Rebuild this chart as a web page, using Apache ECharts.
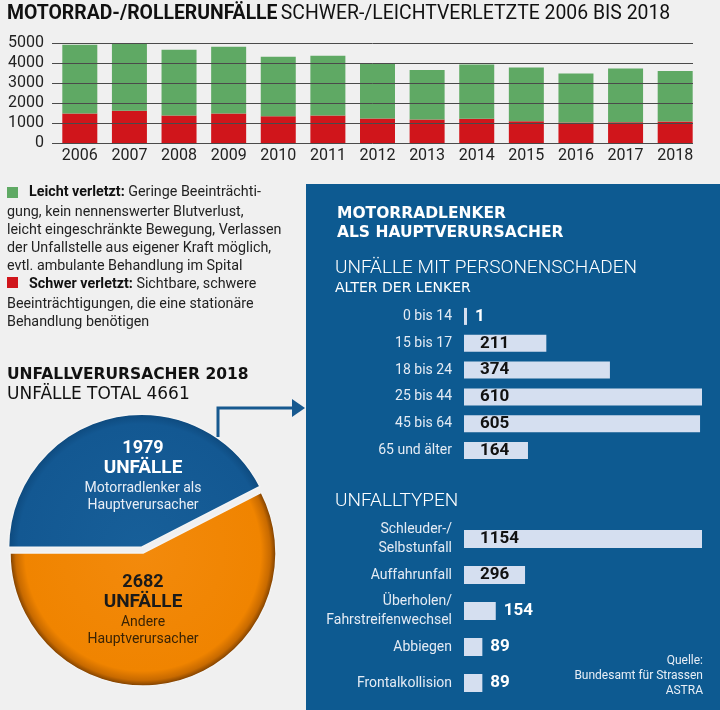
<!DOCTYPE html>
<html><head><meta charset="utf-8">
<script src="https://cdn.jsdelivr.net/npm/echarts@6/dist/echarts.min.js"></script>
<style>html,body{margin:0;padding:0;background:#f0f0f0}#c{width:720px;height:710px}</style>
</head><body><div id="c"></div>
<script>
// ---- data ----
const years = ['2006','2007','2008','2009','2010','2011','2012','2013','2014','2015','2016','2017','2018'];
const schwer = [1480,1610,1380,1480,1340,1380,1230,1180,1210,1090,1030,1040,1080];
const leicht = [3430,3540,3280,3330,2970,2980,2760,2470,2710,2680,2440,2680,2520];
const ageGroups = ['0 bis 14','15 bis 17','18 bis 24','25 bis 44','45 bis 64','65 und älter'];
const ageValues = [1,211,374,610,605,164];
const typeLabels = ['Schleuder-/\nSelbstunfall','Auffahrunfall','Überholen/\nFahrstreifenwechsel','Abbiegen','Frontalkollision'];
const typeValues = [1154,296,154,89,89];
const pieNames = ['Motorradlenker als Hauptverursacher','Andere Hauptverursacher'];
const pieValues = [1979,2682];
const pieTotal = 4661;

const F = 'Roboto, "Noto Sans", sans-serif';
const D = '"DejaVu Sans", sans-serif';
const panelBlue = '#0d5a91';
const barLight = '#d5dff0';

function hbarData(values) {
  const max = Math.max(...values);
  return values.map(v => {
    const small = v / max < 0.2;
    return {
      value: v,
      label: small
        ? {position: 'right', distance: 8, color: '#ffffff'}
        : {position: 'insideLeft', distance: 16, color: '#111111'}
    };
  });
}

const chart = echarts.init(document.getElementById('c'), null, {renderer: 'canvas'});

const option = {
  backgroundColor: '#f0f0f0',
  animation: false,
  grid: [
    {left: 55, right: 20, top: 43, height: 100},          // bars
    {left: 52, width: 641, top: 43, height: 100},          // grid lines overlay
    {left: 464, right: 18, top: 303, height: 161},         // age bars
    {left: 464, right: 18, top: 521, height: 180}          // type bars
  ],
  xAxis: [
    {gridIndex: 0, type: 'category', data: years,
     axisLine: {show: false}, axisTick: {show: false},
     axisLabel: {color: '#222', fontFamily: F, fontSize: 16, margin: 5, interval: 0}},
    {gridIndex: 1, type: 'category', data: years, show: false},
    {gridIndex: 2, type: 'value', min: 0, max: 610, show: false},
    {gridIndex: 3, type: 'value', min: 0, max: 1154, show: false}
  ],
  yAxis: [
    {gridIndex: 0, type: 'value', min: 0, max: 5000, interval: 1000, show: false},
    {gridIndex: 1, type: 'value', min: 0, max: 5000, interval: 1000, z: 5,
     axisLine: {show: false}, axisTick: {show: false},
     axisLabel: {color: '#222', fontFamily: F, fontSize: 16, margin: 8, formatter: v => String(v)},
     splitLine: {show: true, lineStyle: {color: '#4a4a4a', width: 1}}},
    {gridIndex: 2, type: 'category', data: ageGroups, inverse: true,
     axisLine: {show: false}, axisTick: {show: false},
     axisLabel: {color: '#e4ebf4', fontFamily: F, fontSize: 14, margin: 12}},
    {gridIndex: 3, type: 'category', data: typeLabels, inverse: true,
     axisLine: {show: false}, axisTick: {show: false},
     axisLabel: {color: '#e4ebf4', fontFamily: F, fontSize: 14, lineHeight: 19, margin: 12, align: 'right'}}
  ],
  series: [
    {type: 'bar', name: 'Schwer verletzt', xAxisIndex: 0, yAxisIndex: 0, stack: 'a',
     data: schwer, barWidth: 35, itemStyle: {color: '#d0151b'}},
    {type: 'bar', name: 'Leicht verletzt', xAxisIndex: 0, yAxisIndex: 0, stack: 'a',
     data: leicht, barWidth: 35, itemStyle: {color: '#5fa964'}},
    {type: 'bar', name: 'Alter der Lenker', xAxisIndex: 2, yAxisIndex: 2,
     data: hbarData(ageValues), barWidth: 17, barMinHeight: 3,
     itemStyle: {color: barLight},
     label: {show: true, fontFamily: F, fontSize: 17, fontWeight: 'bold'}},
    {type: 'bar', name: 'Unfalltypen', xAxisIndex: 3, yAxisIndex: 3,
     data: hbarData(typeValues), barWidth: 18,
     itemStyle: {color: barLight},
     label: {show: true, fontFamily: F, fontSize: 17, fontWeight: 'bold'}},
    {type: 'pie', name: 'Unfallverursacher 2018', center: [143, 553], radius: 133,
     startAngle: 180, clockwise: true, selectedMode: 'single', selectedOffset: 6,
     label: {show: false}, labelLine: {show: false}, silent: true,
     data: [
       {name: pieNames[0], value: pieValues[0], selected: true,
        itemStyle: {borderColor: '#f4f4f4', borderWidth: 1.5,
          color: {type: 'radial', x: 143, y: 553, r: 140, global: true,
            colorStops: [{offset: 0, color: '#175f99'}, {offset: 0.88, color: '#135892'},
                         {offset: 0.95, color: '#0e4a7e'}, {offset: 1, color: '#093459'}]}}},
       {name: pieNames[1], value: pieValues[1],
        itemStyle: {borderColor: '#f4f4f4', borderWidth: 1.5,
          color: {type: 'radial', x: 143, y: 553, r: 134, global: true,
            colorStops: [{offset: 0, color: '#f38a0c'}, {offset: 0.88, color: '#f08400'},
                         {offset: 0.95, color: '#c86a00'}, {offset: 1, color: '#6e3700'}]}}}
     ]}
  ],
  graphic: [
    {type: 'rect', z: 0, shape: {x: 306, y: 184, width: 414, height: 526}, style: {fill: panelBlue}},
    // title
    {type: 'text', left: 7, top: 5, z: 10, style: {
      text: '{b|MOTORRAD-/ROLLERUNFÄLLE} {r|SCHWER-/LEICHTVERLETZTE 2006 BIS 2018}',
      rich: {b: {fontFamily: F, fontSize: 19.4, fontWeight: 'bold', fill: '#111'},
             r: {fontFamily: F, fontSize: 19.4, fill: '#111'}}}},
    // legend paragraph
    {type: 'rect', z: 10, shape: {x: 7, y: 187, width: 11, height: 11}, style: {fill: '#5fa964'}},
    {type: 'text', left: 29, top: 185, z: 10, style: {
      text: '{b|Leicht verletzt:} Geringe Beeinträchti-',
      font: '14.3px ' + F, fill: '#222',
      rich: {b: {fontFamily: F, fontSize: 14.3, fontWeight: 'bold', fill: '#111'}}}},
    {type: 'text', left: 7, top: 203, z: 10, style: {
      text: 'gung, kein nennenswerter Blutverlust,\nleicht eingeschränkte Bewegung, Verlassen\nder Unfallstelle aus eigener Kraft möglich,\nevtl. ambulante Behandlung im Spital',
      font: '14.3px ' + F, fill: '#222', lineHeight: 18}},
    {type: 'rect', z: 10, shape: {x: 7, y: 277, width: 11, height: 11}, style: {fill: '#d0151b'}},
    {type: 'text', left: 29, top: 277, z: 10, style: {
      text: '{b|Schwer verletzt:} Sichtbare, schwere',
      font: '14.3px ' + F, fill: '#222',
      rich: {b: {fontFamily: F, fontSize: 14.3, fontWeight: 'bold', fill: '#111'}}}},
    {type: 'text', left: 7, top: 295, z: 10, style: {
      text: 'Beeinträchtigungen, die eine stationäre\nBehandlung benötigen',
      font: '14.3px ' + F, fill: '#222', lineHeight: 18}},
    // pie headings
    {type: 'text', left: 7, top: 367, z: 10, style: {
      text: 'UNFALLVERURSACHER 2018', font: 'bold 15.5px ' + D, fill: '#111'}},
    {type: 'text', left: 7, top: 386, z: 10, style: {
      text: 'UNFÄLLE TOTAL ' + pieTotal, font: '17px ' + D, fill: '#111'}},
    // arrow
    {type: 'polyline', z: 10, shape: {points: [[218, 437], [218, 408], [294, 408]]},
     style: {stroke: '#17598f', lineWidth: 3, fill: null}},
    {type: 'polygon', z: 10, shape: {points: [[292, 399], [305, 408], [292, 417]]},
     style: {fill: '#17598f'}},
    // pie labels
    {type: 'text', z: 10, x: 143, y: 448, style: {text: String(pieValues[0]), font: 'bold 18px ' + F, fill: '#fff', align: 'center', verticalAlign: 'middle'}},
    {type: 'text', z: 10, x: 143, y: 468, style: {text: 'UNFÄLLE', font: 'bold 19px ' + F, fill: '#fff', align: 'center', verticalAlign: 'middle'}},
    {type: 'text', z: 10, x: 143, y: 497, style: {text: 'Motorradlenker als\nHauptverursacher', font: '14px ' + F, fill: '#e8eef6', align: 'center', verticalAlign: 'middle', lineHeight: 17}},
    {type: 'text', z: 10, x: 143, y: 582, style: {text: String(pieValues[1]), font: 'bold 18px ' + F, fill: '#1a1a1a', align: 'center', verticalAlign: 'middle'}},
    {type: 'text', z: 10, x: 143, y: 602, style: {text: 'UNFÄLLE', font: 'bold 19px ' + F, fill: '#1a1a1a', align: 'center', verticalAlign: 'middle'}},
    {type: 'text', z: 10, x: 143, y: 631, style: {text: 'Andere\nHauptverursacher', font: '14px ' + F, fill: '#3a2305', align: 'center', verticalAlign: 'middle', lineHeight: 17}},
    // panel texts
    {type: 'text', z: 10, left: 337, top: 204, style: {text: 'MOTORRADLENKER\nALS HAUPTVERURSACHER', font: 'bold 15.5px ' + D, fill: '#fff', lineHeight: 19}},
    {type: 'text', z: 10, left: 335, top: 259, style: {text: 'UNFÄLLE MIT PERSONENSCHADEN', font: '300 19px ' + F, fill: '#fff'}},
    {type: 'text', z: 10, left: 335, top: 281, style: {text: 'ALTER DER LENKER', font: '14px ' + D, fill: '#fff'}},
    {type: 'text', z: 10, left: 335, top: 492, style: {text: 'UNFALLTYPEN', font: '300 19px ' + F, fill: '#fff'}},
    {type: 'text', z: 10, x: 703, y: 653, style: {text: 'Quelle:\nBundesamt für Strassen\nASTRA', font: '12px ' + F, fill: '#e8eef6', align: 'right', lineHeight: 15}}
  ]
};
chart.setOption(option);
</script>
</body></html>
